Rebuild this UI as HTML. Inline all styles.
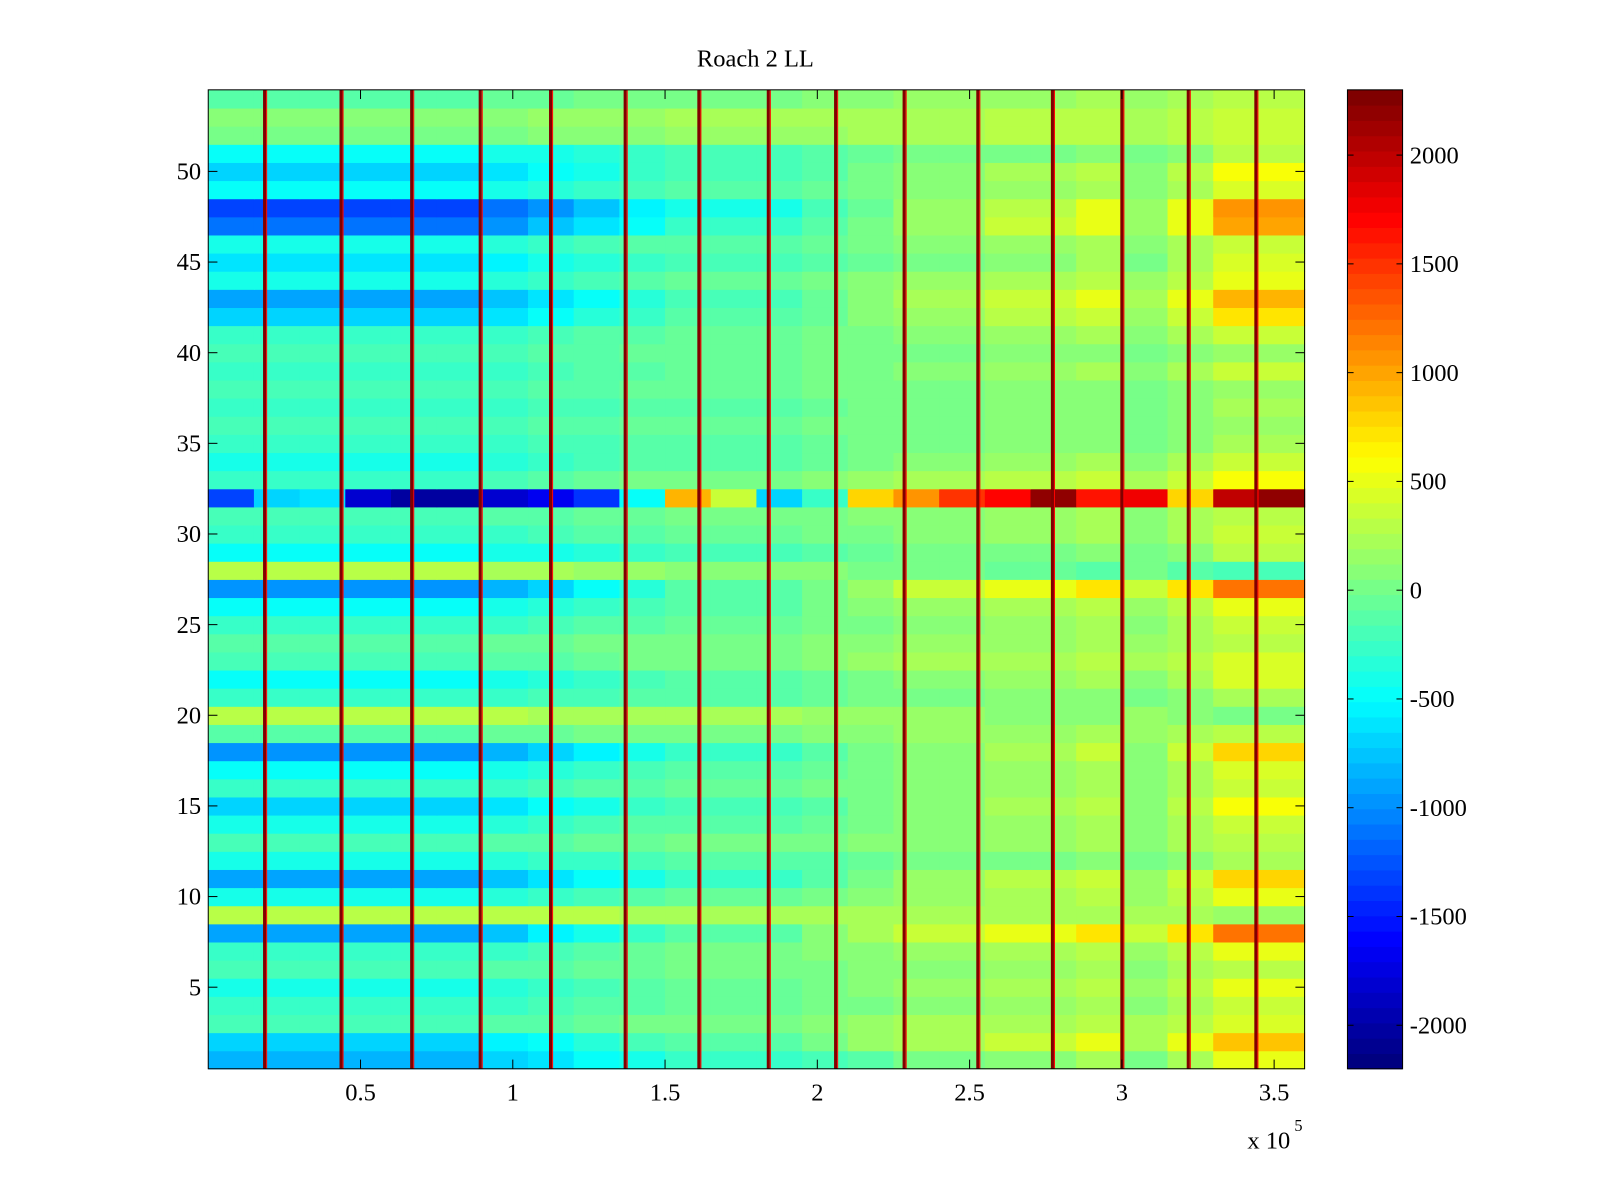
<!DOCTYPE html>
<html><head><meta charset="utf-8"><style>
html,body{margin:0;padding:0;background:#fff;width:1600px;height:1200px;overflow:hidden}
svg text{font-family:"Liberation Serif",serif;font-size:24px;fill:#000}
</style></head><body>
<svg id="chart" width="1600" height="1200" xmlns="http://www.w3.org/2000/svg">
<rect width="1600" height="1200" fill="#fff"/>
<g transform="scale(1.0208)">
<text x="740" y="65" text-anchor="middle">Roach 2 LL</text>
<g id="cells"></g>
<g id="lines"></g>
<g id="axes"></g>
<g id="cbar"></g>
<text x="1222" y="1125">x 10</text>
<text x="1268" y="1108" style="font-size:16px">5</text>
</g>
</svg>
<script>
// ---- data ----
const xTicks = [0.5, 1, 1.5, 2, 2.5, 3, 3.5];
const yTicks = [5, 10, 15, 20, 25, 30, 35, 40, 45, 50];
const cbarTicks = [-2000, -1500, -1000, -500, 0, 500, 1000, 1500, 2000];
// per-row base values (row 1 .. 54) on the left and right of the recording
const rowLeft = [-800,-700,-200,-300,-400,-200,-300,-900,300,-400,-900,-400,-200,-400,-700,-300,-500,-1000,-100,300,-300,-500,-200,-100,-300,-500,-1000,300,-500,-300,-200,0,-300,-400,-300,-200,-300,-200,-300,-200,-300,-700,-900,-400,-600,-400,-1100,-1300,-500,-700,-500,0,100,-100];
const rowRight = [200,500,300,200,300,200,300,700,200,300,400,100,200,200,300,200,200,400,200,100,100,200,300,200,200,300,700,-100,100,200,200,0,400,200,100,100,100,100,200,100,200,400,500,300,200,200,500,500,200,300,100,300,300,200];
// segment mixing weights (24 segments of 0.15e5)
const segWeight = [0,0,0,0,0,0,0.1,0.2,0.3,0.4,0.5,0.5,0.5,0.6,0.7,0.8,0.8,0.9,0.9,1,0.8,1,1.3,1.3];
// row 32 special values per segment
const row32 = [-1300,-700,-600,-1800,-2000,-2000,-1800,-1700,-1400,-500,900,400,-700,-300,800,1100,1500,1700,2200,1600,1800,800,2000,2200];
// vertical artifact lines (x in 1e5)
const lineX = [0.185,0.436,0.668,0.893,1.124,1.369,1.611,1.839,2.060,2.285,2.527,2.772,3.0,3.218,3.440];
const lineValue = 2300;

// ---- axes functions ----
const PX0=204, PX1=1278, PY0=88, PY1=1047;
const XMIN=0, XMAX=3.6, YMIN=0.5, YMAX=54.5;
const CMIN=-2200, CMAX=2300;
const sx = v => PX0 + (v-XMIN)/(XMAX-XMIN)*(PX1-PX0);
const sy = v => PY1 - (v-YMIN)/(YMAX-YMIN)*(PY1-PY0);
function jet(v){
  let t=(v-CMIN)/(CMAX-CMIN); t=Math.max(0,Math.min(1,t));
  t=Math.floor(t*63.999)/63;
  const f=x=>Math.max(0,Math.min(1,x));
  const r=f(1.5-Math.abs(4*t-3)), g=f(1.5-Math.abs(4*t-2)), b=f(1.5-Math.abs(4*t-1));
  return `rgb(${Math.round(r*255)},${Math.round(g*255)},${Math.round(b*255)})`;
}
const NS='http://www.w3.org/2000/svg';
function mk(tag,attrs,parent){const e=document.createElementNS(NS,tag);for(const k in attrs)e.setAttribute(k,attrs[k]);parent.appendChild(e);return e;}

const cells=document.getElementById('cells');
const segW=(XMAX-XMIN)/segWeight.length;
for(let r=0;r<rowLeft.length;r++){
  const row=r+1;
  for(let s=0;s<segWeight.length;s++){
    const w=segWeight[s];
    const v = row===32 ? row32[s] : rowLeft[r]*(1-w)+rowRight[r]*w;
    const x0=sx(s*segW), x1=sx((s+1)*segW), y0=sy(row+0.5), y1=sy(row-0.5);
    const el=mk('rect',{x:x0,y:y0,width:x1-x0+0.6,height:y1-y0+0.6,fill:jet(v)},cells);
    
    
  }
}
const lines=document.getElementById('lines');
for(const lx of lineX){
  const el=mk('rect',{x:sx(lx)-1.5,y:PY0,width:3,height:PY1-PY0,fill:jet(lineValue)},lines);
  
  
  const el2=mk('rect',{x:sx(lx)+1.5,y:PY0,width:1,height:PY1-PY0,fill:jet(1700)},lines);
  
  
}
const axes=document.getElementById('axes');
const frame=mk('rect',{x:PX0,y:PY0,width:PX1-PX0,height:PY1-PY0,fill:'none',stroke:'#000','stroke-width':1},axes);


for(const t of xTicks){
  const x=sx(t);
  mk('line',{x1:x,y1:PY1,x2:x,y2:PY1-9,stroke:'#000'},axes);
  mk('line',{x1:x,y1:PY0,x2:x,y2:PY0+9,stroke:'#000'},axes);
  const tx=mk('text',{x:x,y:1078,'text-anchor':'middle'},axes);
  tx.textContent=String(t);
  
  
}
for(const t of yTicks){
  const y=sy(t);
  mk('line',{x1:PX0,y1:y,x2:PX0+9,y2:y,stroke:'#000'},axes);
  mk('line',{x1:PX1,y1:y,x2:PX1-9,y2:y,stroke:'#000'},axes);
  const tx=mk('text',{x:197,y:y+8,'text-anchor':'end'},axes);
  tx.textContent=String(t);
  
  
}
const cbar=document.getElementById('cbar');
const CX0=1320,CX1=1374;
const cy=v=>PY1-(v-CMIN)/(CMAX-CMIN)*(PY1-PY0);
for(let i=0;i<64;i++){
  const v0=CMIN+i*(CMAX-CMIN)/64, v1=CMIN+(i+1)*(CMAX-CMIN)/64;
  const el=mk('rect',{x:CX0,y:cy(v1),width:CX1-CX0,height:cy(v0)-cy(v1)+0.5,fill:jet((v0+v1)/2)},cbar);
  
  
}
mk('rect',{x:CX0,y:PY0,width:CX1-CX0,height:PY1-PY0,fill:'none',stroke:'#000'},cbar);
for(const t of cbarTicks){
  const y=cy(t);
  mk('line',{x1:CX0,y1:y,x2:CX0+6,y2:y,stroke:'#000'},cbar);
  mk('line',{x1:CX1,y1:y,x2:CX1-6,y2:y,stroke:'#000'},cbar);
  const tx=mk('text',{x:1381,y:y+8},cbar);
  tx.textContent=String(t);
  
  
}
</script>
</body></html>
